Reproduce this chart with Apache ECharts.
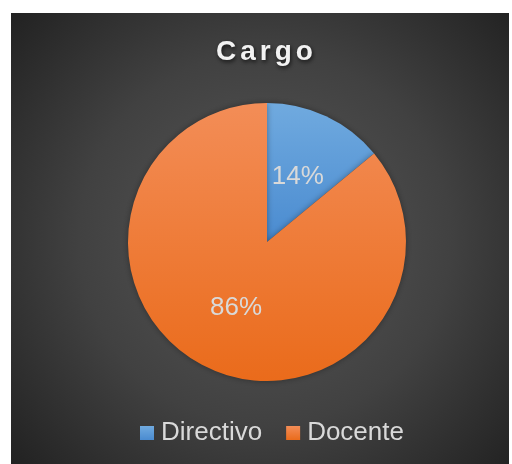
<!DOCTYPE html>
<html>
<head>
<meta charset="utf-8">
<script src="https://cdn.jsdelivr.net/npm/echarts@6/dist/echarts.min.js"></script>
<style>
  html, body { margin: 0; padding: 0; background: #ffffff; }
  #chart { position: absolute; left: 11px; top: 13px; width: 498px; height: 451px; }
</style>
</head>
<body>
<div id="chart"></div>
<script>
// datos del gráfico
var titleText = 'Cargo';
var categories = ['Directivo', 'Docente'];
var values = [14, 86];
var colors = [
    ['#70aadf', '#4a8bd0'],   // Directivo
    ['#f38d57', '#ea6b1b']    // Docente
];

var chart = echarts.init(document.getElementById('chart'));

function vGrad(c) {
    return new echarts.graphic.LinearGradient(0, 0, 0, 1, [
        { offset: 0, color: c[0] },
        { offset: 1, color: c[1] }
    ]);
}

var pieData = categories.map(function (name, i) {
    return {
        name: name,
        value: values[i],
        itemStyle: { color: vGrad(colors[i]) }
    };
});

// espaciado entre letras del título
var spacedTitle = titleText.split('').map(function (ch) {
    return '{l|' + ch + '}';
}).join('');

var titleStyle = {
    color: '#f2f2f2',
    fontFamily: 'Liberation Sans, Arial, sans-serif',
    fontSize: 28,
    fontWeight: 'bold',
    textShadowColor: 'rgba(0,0,0,0.7)',
    textShadowBlur: 4,
    textShadowOffsetX: 1,
    textShadowOffsetY: 2
};

var option = {
    backgroundColor: new echarts.graphic.RadialGradient(0.51, 0.5, 0.75, [
        { offset: 0, color: '#585858' },
        { offset: 0.55, color: '#414141' },
        { offset: 1, color: '#222222' }
    ]),
    animation: false,
    title: {
        text: spacedTitle,
        left: 198,
        top: 20,
        textStyle: Object.assign({}, titleStyle, {
            rich: {
                l: Object.assign({}, titleStyle, { padding: [0, 2, 0, 2] })
            }
        })
    },
    legend: {
        data: categories,
        bottom: 13,
        left: 124,
        icon: 'rect',
        itemWidth: 14,
        itemHeight: 14,
        itemGap: 24,
        textStyle: {
            color: '#d9d9d9',
            fontFamily: 'Liberation Sans, Arial, sans-serif',
            fontSize: 26,
            padding: [0, 0, 0, 2]
        }
    },
    series: [{
        type: 'pie',
        center: [256, 229],
        radius: [0, 139],
        startAngle: 90,
        clockwise: true,
        label: {
            show: true,
            position: 'inner',
            formatter: '{d}%',
            color: '#d9d9d9',
            fontFamily: 'Liberation Sans, Arial, sans-serif',
            fontSize: 26
        },
        labelLine: { show: false },
        itemStyle: {
            borderWidth: 0,
            shadowColor: 'rgba(0,0,0,0.35)',
            shadowBlur: 6
        },
        emphasis: { disabled: true },
        data: pieData
    }]
};

chart.setOption(option);
</script>
</body>
</html>
